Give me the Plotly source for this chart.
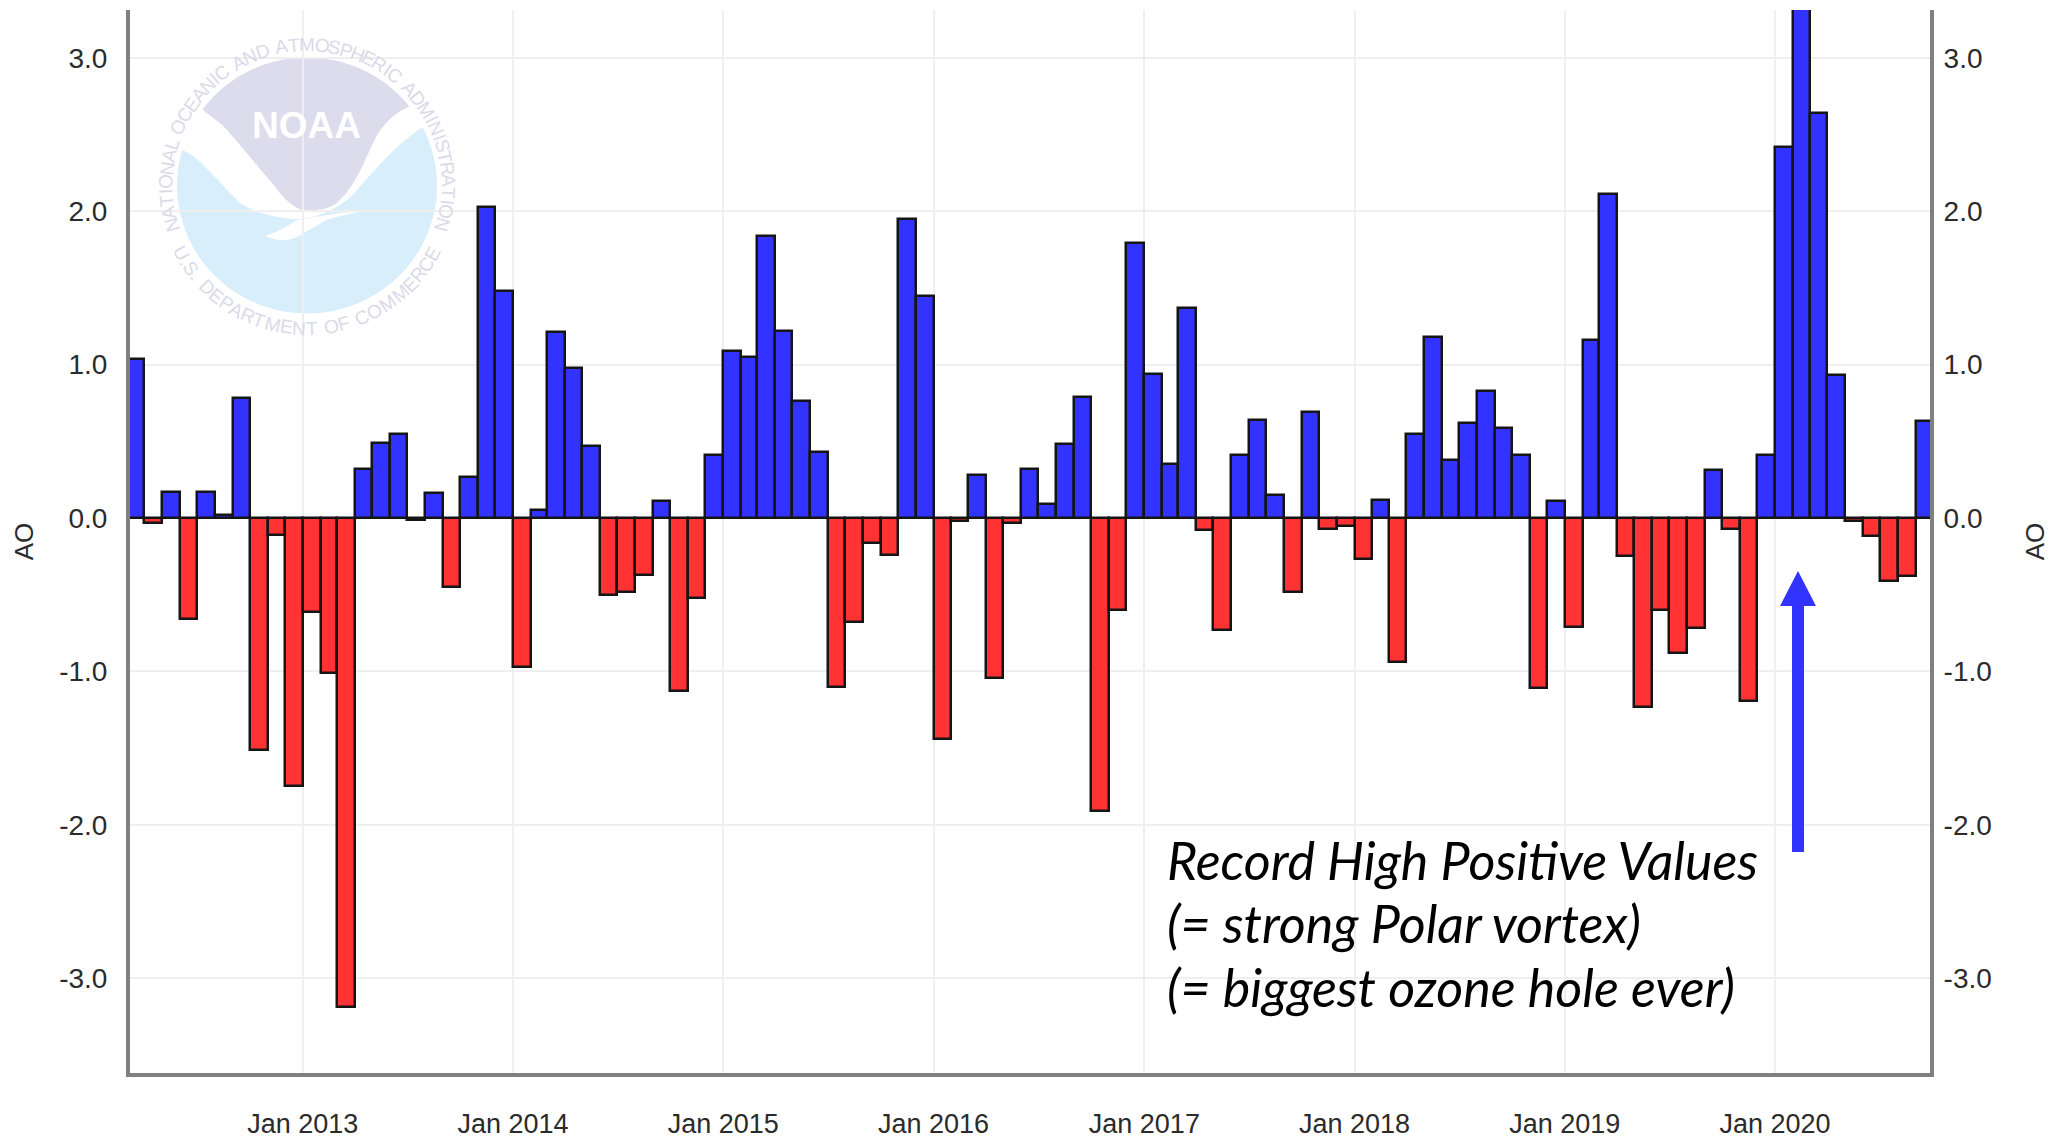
import math
import numpy as np
import pandas as pd
import plotly.graph_objects as go

# ---------- data ----------
AO_2012 = [1.04, -0.03, 0.17, -0.66, 0.17, 0.02, 0.78, -1.51, -0.11, -1.75]  # Mar..Dec
AO_2013 = [-0.61, -1.01, -3.19, 0.32, 0.49, 0.55, -0.01, 0.16, -0.45, 0.27, 2.03, 1.48]
AO_2014 = [-0.97, 0.05, 1.21, 0.98, 0.47, -0.50, -0.48, -0.37, 0.11, -1.13, -0.52, 0.41]
AO_2015 = [1.09, 1.05, 1.84, 1.22, 0.76, 0.43, -1.10, -0.68, -0.16, -0.24, 1.95, 1.45]
AO_2016 = [-1.44, -0.02, 0.28, -1.04, -0.03, 0.32, 0.09, 0.48, 0.79, -1.91, -0.60, 1.79]
AO_2017 = [0.94, 0.35, 1.37, -0.08, -0.73, 0.41, 0.64, 0.15, -0.48, 0.69, -0.07, -0.05]
AO_2018 = [-0.27, 0.12, -0.94, 0.55, 1.18, 0.38, 0.62, 0.83, 0.59, 0.41, -1.11, 0.11]
AO_2019 = [-0.71, 1.16, 2.11, -0.25, -1.23, -0.60, -0.88, -0.72, 0.31, -0.07, -1.19, 0.41]
AO_2020 = [2.42, 3.42, 2.64, 0.93, -0.02, -0.12, -0.41, -0.38, 0.63]  # Jan..Sep

ao_values = AO_2012 + AO_2013 + AO_2014 + AO_2015 + AO_2016 + AO_2017 + AO_2018 + AO_2019 + AO_2020
months = pd.date_range("2012-03-01", periods=len(ao_values) + 1, freq="MS")

x_tick_years = [2013, 2014, 2015, 2016, 2017, 2018, 2019, 2020]
x_tick_vals = [f"{y}-01-01" for y in x_tick_years]
x_tick_text = [f"Jan {y}" for y in x_tick_years]
y_tick_vals = [-3, -2, -1, 0, 1, 2, 3]
y_tick_text = ["-3.0", "-2.0", "-1.0", "0.0", "1.0", "2.0", "3.0"]

note_lines = ["Record High Positive Values", "(= strong Polar vortex)", "(= biggest ozone hole ever)"]
ring_top = "NATIONAL OCEANIC AND ATMOSPHERIC ADMINISTRATION"
ring_bottom = "U.S. DEPARTMENT OF COMMERCE"

# ---------- page geometry ----------
W, H = 2061, 1141
L, R, T, B = 130, 1930, 10, 1073


def px(x):
    return (x - L) / (R - L)


def py(y):
    return 1 - (y - T) / (B - T)


def path(cmds):
    """Turn [('M',(x,y)), ('C',(x1,y1),(x2,y2),(x,y)) ...] in page pixels into a paper path."""
    out = []
    for c in cmds:
        pts = " ".join(f"{px(a):.5f},{py(b):.5f}" for a, b in c[1:])
        out.append(f"{c[0]} {pts}".strip())
    return " ".join(out)


def paper_shape(d, color):
    return dict(type="path", xref="paper", yref="paper", path=d, fillcolor=color,
                line=dict(width=0), layer="below")


# ---------- NOAA watermark ----------
CX, CY, RX, RY = 307, 185.5, 130, 128


def arc(a0, a1, n=40):
    """Points on the disc edge; angle in degrees clockwise from the top."""
    res = []
    for a in np.linspace(a0, a1, n):
        t = math.radians(a)
        res.append(("L", (CX + RX * math.sin(t), CY - RY * math.cos(t))))
    return res


def angle_of(x, y):
    return math.degrees(math.atan2((x - CX) / RX, -(y - CY) / RY))


lav_a0 = angle_of(203, 110)
lav_a1 = angle_of(409, 107)
lavender = [("M", (203, 110))] + arc(lav_a0, lav_a1) + [
    ("C", (392, 113), (380, 128), (373, 143)),
    ("C", (365, 160), (355, 187), (337, 203)),
    ("C", (325, 211), (315, 210), (303, 210)),
    ("C", (290, 208), (278, 190), (267, 177)),
    ("C", (255, 163), (240, 145), (227, 130)),
    ("C", (220, 122), (210, 116), (203, 110)),
    ("Z",),
]
blue_a0 = angle_of(423, 127)
blue_a1 = 360 + angle_of(182, 150)
blue = [("M", (423, 127))] + arc(blue_a0, blue_a1, 70) + [
    ("C", (197, 155), (215, 178), (240, 203)),
    ("C", (255, 213), (280, 219), (300, 219)),
    ("C", (320, 218), (345, 205), (357, 190)),
    ("C", (375, 170), (395, 145), (423, 127)),
    ("Z",),
]
swoosh = [
    ("M", (265, 236)),
    ("C", (278, 232), (287, 226), (297, 220)),
    ("L", (340, 213)),
    ("L", (363, 211)),
    ("C", (350, 214), (338, 216), (327, 220)),
    ("C", (315, 226), (305, 233), (297, 237)),
    ("C", (288, 241), (275, 241), (265, 236)),
    ("Z",),
]

shapes = [
    paper_shape(path(lavender), "#dcdcec"),
    paper_shape(path(blue), "#d9eefb"),
    paper_shape(path(swoosh), "#ffffff"),
]

# blue arrow
AX = 1798
shapes.append(dict(type="path", xref="paper", yref="paper", fillcolor="#3333ff", line=dict(width=0),
                   layer="above",
                   path=path([("M", (AX, 571)), ("L", (AX + 18, 606)), ("L", (AX + 6, 606)), ("L", (AX + 6, 852)),
                              ("L", (AX - 6, 852)), ("L", (AX - 6, 606)), ("L", (AX - 18, 606)), ("Z",)])))

annotations = []


def char_weight(c):
    return {"I": 0.5, " ": 0.55, ".": 0.45, "M": 1.3, "N": 1.1, "O": 1.15, "D": 1.1, "T": 0.95, "C": 1.1, "L": 0.85,
            "E": 0.95, "F": 0.9, "S": 0.95}.get(c, 1.0)


def ring(text, a0, a1, radius, bottom):
    w = [char_weight(c) for c in text]
    total = sum(w)
    acc = 0.0
    for c, cw in zip(text, w):
        a = a0 + (a1 - a0) * (acc + cw / 2) / total
        acc += cw
        if c == " ":
            continue
        t = math.radians(a)
        x = CX + radius * math.sin(t)
        y = CY - radius * math.cos(t)
        annotations.append(dict(x=px(x), y=py(y), xref="paper", yref="paper", text=c, showarrow=False,
                                xanchor="center", yanchor="middle",
                                textangle=(a + 180 if bottom else a),
                                font=dict(family="Liberation Sans", size=19, color="#dadae8")))


ring(ring_top, -109, 109, 141, False)
ring(ring_bottom, 244, 116, 143, True)

annotations.append(dict(x=px(306), y=py(125), xref="paper", yref="paper", text="<b>NOAA</b>", showarrow=False,
                        xanchor="center", yanchor="middle",
                        font=dict(family="Liberation Sans", size=37, color="#ffffff")))

# note text
for line, yy in zip(note_lines, [860, 923, 987]):
    annotations.append(dict(x=px(1165), y=py(yy), xref="paper", yref="paper", text=f"<i>{line}</i>",
                            showarrow=False, xanchor="left", yanchor="middle",
                            font=dict(family="Lato", size=52, color="#000000")))

# ---------- traces ----------
period_ms = [(b - a).total_seconds() * 1000 for a, b in zip(months[:-1], months[1:])]
colors = ["#3333ff" if v >= 0 else "#ff3333" for v in ao_values]

fig = go.Figure()
fig.add_trace(go.Bar(x=months[:-1], y=ao_values, width=period_ms, offset=0, name="AO",
                     marker=dict(color=colors, line=dict(color="#151515", width=2.5)), showlegend=False))
fig.add_trace(go.Scatter(x=months[:-1], y=ao_values, yaxis="y2", mode="lines", line=dict(color="rgba(0,0,0,0)"),
                         hoverinfo="skip", showlegend=False))

axis_font = dict(family="Liberation Sans", size=28, color="#2b2b2b")
title_font = dict(family="Liberation Sans", size=26, color="#2b2b2b")
y_range = [-3.618, 3.312]
fig.update_layout(
    width=W, height=H, autosize=False,
    margin=dict(l=L, r=W - R, t=T, b=H - B, pad=0),
    paper_bgcolor="#ffffff", plot_bgcolor="rgba(0,0,0,0)",
    bargap=0, shapes=shapes, annotations=annotations,
    xaxis=dict(type="date", range=["2012-03-07", "2020-09-26"], tickmode="array", tickvals=x_tick_vals,
               ticktext=x_tick_text, showgrid=True, gridcolor="#efefef", gridwidth=2, ticks="",
               showline=True, linecolor="#808080", linewidth=4, zeroline=False, automargin=False,
               tickfont=dict(family="Liberation Sans", size=27, color="#2b2b2b"), ticklabelstandoff=24),
    yaxis=dict(range=y_range, tickmode="array", tickvals=y_tick_vals, ticktext=y_tick_text, showgrid=True,
               gridcolor="#efefef", gridwidth=2, ticks="", showline=True, linecolor="#808080", linewidth=4,
               zeroline=True, zerolinecolor="#333333", zerolinewidth=2, tickfont=axis_font, ticklabelstandoff=13,
               automargin=False, title=dict(text="AO", font=title_font, standoff=19)),
    yaxis2=dict(range=y_range, overlaying="y", side="right", tickmode="array", tickvals=y_tick_vals,
                ticktext=y_tick_text, showgrid=False, ticks="", showline=True, linecolor="#808080", linewidth=4,
                zeroline=False, tickfont=axis_font, ticklabelstandoff=4,
                automargin=False, title=dict(text="AO", font=title_font, standoff=36)),
)

fig.write_html("out.html", config={"displayModeBar": False}, post_script="document.body.style.margin='0';")
